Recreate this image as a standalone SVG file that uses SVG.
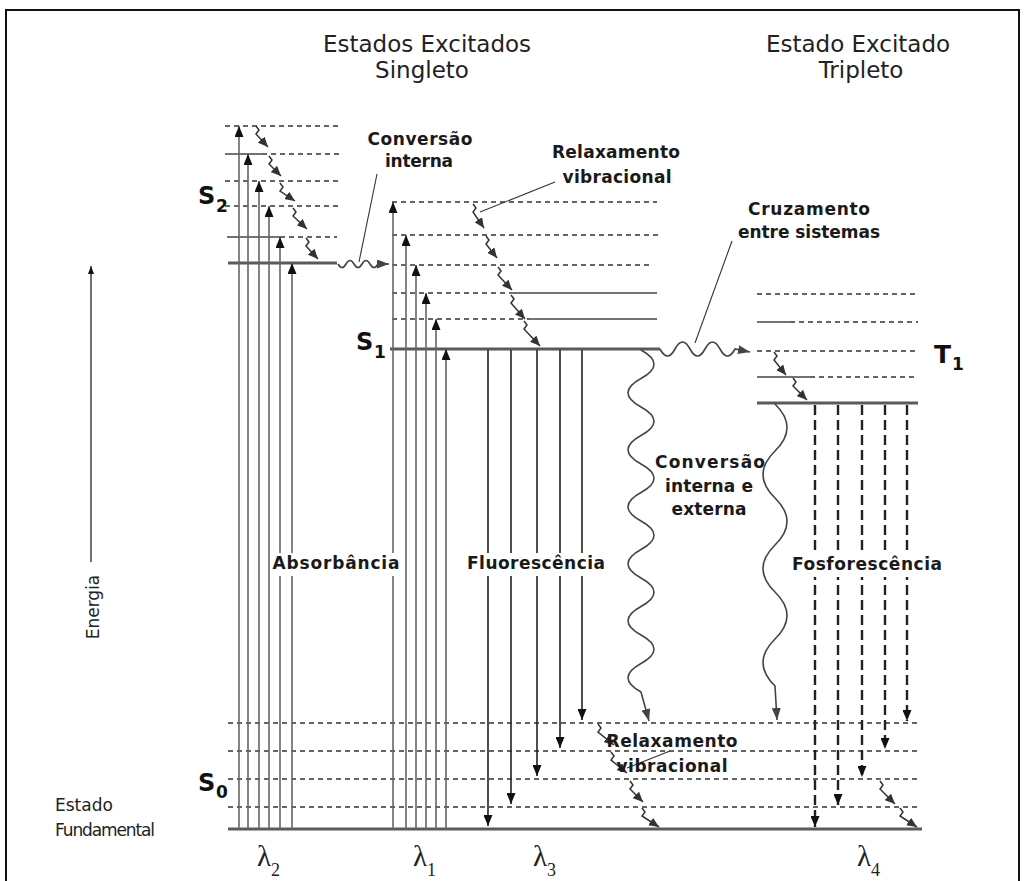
<svg xmlns="http://www.w3.org/2000/svg" width="1026" height="881" viewBox="0 0 1026 881">
  <style>
    .main { stroke: #5a5a5a; stroke-width: 3.2; fill: none; }
    .dash { stroke: #333; stroke-width: 1.6; stroke-dasharray: 5 4; fill: none; }
    .thin { stroke: #444; stroke-width: 1.3; fill: none; }
    .abs { stroke: #666; stroke-width: 1.6; fill: none; marker-end: url(#ah); }
    .flu { stroke: #222; stroke-width: 1.6; fill: none; marker-end: url(#ah); }
    .pho { stroke: #222; stroke-width: 2.4; stroke-dasharray: 10 5; fill: none; marker-end: url(#ah); }
    .rel { stroke: #333; stroke-width: 1.5; fill: none; marker-end: url(#ahs); }
    .wav { stroke: #444; stroke-width: 1.6; fill: none; marker-end: url(#ahw); }
    .lead { stroke: #333; stroke-width: 1.1; fill: none; }
    .tt { font-family: "DejaVu Sans", "Liberation Sans", sans-serif; font-size: 23px; fill: #222; text-anchor: middle; }
    .lb { font-family: "DejaVu Sans", "Liberation Sans", sans-serif; font-size: 17px; font-weight: bold; fill: #1a1a1a; text-anchor: middle; }
    .st { font-family: "DejaVu Sans", "Liberation Sans", sans-serif; font-weight: bold; fill: #111; }
    .rg { font-family: "DejaVu Sans", "Liberation Sans", sans-serif; font-size: 17px; fill: #222; }
    .lam { font-family: "Liberation Serif", "DejaVu Serif", serif; font-size: 29px; fill: #222; }
  </style>
  <defs>
    <marker id="ah" viewBox="0 0 11 9" refX="11" refY="4.5" markerWidth="11" markerHeight="9" markerUnits="userSpaceOnUse" orient="auto">
      <path d="M0,0 L11,4.5 L0,9 z" fill="#111"/>
    </marker>
    <marker id="ahs" viewBox="0 0 10 9" refX="10" refY="4.5" markerWidth="10" markerHeight="9" markerUnits="userSpaceOnUse" orient="auto">
      <path d="M0,0 L10,4.5 L0,9 z" fill="#333"/>
    </marker>
    <marker id="ahw" viewBox="0 0 12 9" refX="12" refY="4.5" markerWidth="12" markerHeight="9" markerUnits="userSpaceOnUse" orient="auto">
      <path d="M0,0 L12,4.5 L0,9 z" fill="#444"/>
    </marker>
    <marker id="ahe" viewBox="0 0 8 6" refX="8" refY="3" markerWidth="8" markerHeight="6" markerUnits="userSpaceOnUse" orient="auto">
      <path d="M0,0 L8,3 L0,6 z" fill="#111"/>
    </marker>
  </defs>

  <rect width="1026" height="881" fill="#fff"/>
  <rect x="6" y="10" width="1013" height="900" fill="none" stroke="#111" stroke-width="2"/>

  <!-- titles -->
  <g id="titles">
    <text class="tt" x="427" y="52">Estados Excitados</text>
    <text class="tt" x="422" y="78">Singleto</text>
    <text class="tt" x="858" y="52">Estado Excitado</text>
    <text class="tt" x="861" y="78">Tripleto</text>
  </g>

  <!-- energy axis -->
  <g id="energy-axis">
    <line x1="91" y1="562" x2="91" y2="266" stroke="#333" stroke-width="1.4" marker-end="url(#ahe)"/>
    <text class="rg" x="99" y="607" text-anchor="middle" transform="rotate(-90 99 607)">Energia</text>
  </g>

  <!-- singlet S2 -->
  <g id="S2">
    <line class="dash" x1="225" y1="126" x2="340" y2="126"/>
    <line class="thin" x1="225" y1="154" x2="262" y2="154"/>
    <line class="dash" x1="262" y1="154" x2="340" y2="154"/>
    <line class="dash" x1="225" y1="181" x2="340" y2="181"/>
    <line class="dash" x1="225" y1="206" x2="340" y2="206"/>
    <line class="thin" x1="227" y1="237" x2="280" y2="237"/>
    <line class="dash" x1="280" y1="237" x2="337" y2="237"/>
    <line class="main" x1="228" y1="263" x2="337" y2="263"/>
    <text class="st" x="198" y="204" font-size="24">S</text>
    <text class="st" x="216" y="212" font-size="17">2</text>
  </g>

  <!-- singlet S1 -->
  <g id="S1">
    <line class="dash" x1="392" y1="202" x2="657" y2="202"/>
    <line class="dash" x1="392" y1="235" x2="660" y2="235"/>
    <line class="dash" x1="392" y1="265" x2="652" y2="265"/>
    <line class="dash" x1="392" y1="293" x2="510" y2="293"/>
    <line class="thin" x1="510" y1="293" x2="657" y2="293"/>
    <line class="dash" x1="392" y1="319" x2="530" y2="319"/>
    <line class="thin" x1="530" y1="319" x2="657" y2="319"/>
    <line class="main" x1="390" y1="349" x2="660" y2="349"/>
    <text class="st" x="356" y="350" font-size="24">S</text>
    <text class="st" x="374" y="358" font-size="17">1</text>
  </g>

  <!-- triplet T1 -->
  <g id="T1">
    <line class="dash" x1="757" y1="294" x2="918" y2="294"/>
    <line class="thin" x1="757" y1="322" x2="790" y2="322"/>
    <line class="dash" x1="790" y1="322" x2="918" y2="322"/>
    <line class="dash" x1="757" y1="351" x2="915" y2="351"/>
    <line class="thin" x1="757" y1="377" x2="810" y2="377"/>
    <line class="dash" x1="810" y1="377" x2="918" y2="377"/>
    <line class="main" x1="757" y1="403" x2="918" y2="403"/>
    <text class="st" x="934" y="363" font-size="25">T</text>
    <text class="st" x="952" y="370" font-size="17">1</text>
  </g>

  <!-- ground state S0 -->
  <g id="S0">
    <line class="dash" x1="228" y1="723" x2="920" y2="723"/>
    <line class="dash" x1="228" y1="751" x2="920" y2="751"/>
    <line class="dash" x1="228" y1="779" x2="920" y2="779"/>
    <line class="dash" x1="228" y1="807" x2="920" y2="807"/>
    <line class="main" x1="228" y1="829" x2="922" y2="829"/>
    <text class="st" x="198" y="791" font-size="24">S</text>
    <text class="st" x="216" y="798" font-size="17">0</text>
    <text class="rg" x="55" y="811">Estado</text>
    <text class="rg" x="55" y="836" textLength="100">Fundamental</text>
  </g>

  <!-- transitions -->
  <g id="connectors">
    <!-- absorption, lambda 2 -->
    <path class="abs" d="M239 829 V126"/>
    <path class="abs" d="M248 829 V154"/>
    <path class="abs" d="M259 829 V181"/>
    <path class="abs" d="M269 829 V206"/>
    <path class="abs" d="M280 829 V237"/>
    <path class="abs" d="M292 829 V263"/>
    <!-- absorption, lambda 1 -->
    <path class="abs" d="M393 829 V202"/>
    <path class="abs" d="M406 829 V235"/>
    <path class="abs" d="M416 829 V265"/>
    <path class="abs" d="M426 829 V293"/>
    <path class="abs" d="M436 829 V319"/>
    <path class="abs" d="M446 829 V349"/>
    <!-- fluorescence -->
    <path class="flu" d="M488 350 V826"/>
    <path class="flu" d="M511 350 V804"/>
    <path class="flu" d="M537 350 V776"/>
    <path class="flu" d="M560 350 V748"/>
    <path class="flu" d="M582 350 V720"/>
    <!-- phosphorescence -->
    <path class="pho" d="M815 405 V827"/>
    <path class="pho" d="M838 405 V805"/>
    <path class="pho" d="M862 405 V777"/>
    <path class="pho" d="M885 405 V749"/>
    <path class="pho" d="M907 405 V721"/>
    <!-- vibrational relaxation S2 -->
    <path class="rel" d="M256 126 l3 4 l-3 4 L268 147"/>
    <path class="rel" d="M269 156 l3 4 l-3 4 L281 176"/>
    <path class="rel" d="M280 183 l3 4 l-3 4 L295 201"/>
    <path class="rel" d="M293 208 l3 4 l-3 4 L307 229"/>
    <path class="rel" d="M306 238 l3 4 l-3 4 L318 259"/>
    <!-- vibrational relaxation S1 -->
    <path class="rel" d="M473 204 l3 4 l-3 4 L484 228"/>
    <path class="rel" d="M486 236 l3 4 l-3 4 L497 258"/>
    <path class="rel" d="M498 267 l3 4 l-3 4 L512 290"/>
    <path class="rel" d="M511 295 l3 4 l-3 4 L525 319"/>
    <path class="rel" d="M524 321 l3 4 l-3 4 L540 346"/>
    <!-- vibrational relaxation T1 -->
    <path class="rel" d="M774 352 l3 4 l-3 4 L786 375"/>
    <path class="rel" d="M793 378 l3 4 l-3 4 L807 400"/>
    <!-- vibrational relaxation S0 -->
    <path class="rel" d="M598 724 l3 4 l-3 4 L614 745"/>
    <path class="rel" d="M611 752 l3 4 l-3 4 L627 773"/>
    <path class="rel" d="M630 781 l3 4 l-3 4 L643 802"/>
    <path class="rel" d="M642 808 l3 4 l-3 4 L659 827"/>
    <path class="rel" d="M880 781 l3 4 l-3 4 L895 804"/>
    <path class="rel" d="M900 808 l3 4 l-3 4 L917 827"/>
    <!-- internal conversion S2 -> S1 -->
    <path class="wav" d="M338 264 Q342 271 346 264 T354 264 T362 264 T370 264 T378 264 L389 264"/>
    <!-- intersystem crossing S1 -> T1 -->
    <path class="wav" d="M660 349 Q667.5 363 675 349 T690 349 T705 349 T720 349 T735 349 L750 352"/>
    <!-- internal/external conversion S1 -> S0 -->
    <path class="wav" d="M641 350 Q667 364.25 641 378.5 T641 407 T641 435.5 T641 464 T641 492.5 T641 521 T641 549.5 T641 578 T641 606.5 T641 635 T641 663.5 T641 692 L649 721"/>
    <!-- internal/external conversion T1 -> S0 -->
    <path class="wav" d="M775 404 Q799 427.5 775 451 T775 498 T775 545 T775 592 T775 639 T775 686 L777 720"/>
    <!-- label leaders -->
    <line class="lead" x1="377" y1="174" x2="359" y2="262"/>
    <line class="lead" x1="555" y1="182" x2="480" y2="212"/>
    <line class="lead" x1="732" y1="241" x2="695" y2="343"/>
    <line class="lead" x1="670" y1="751" x2="627" y2="768"/>
  </g>

  <!-- process labels -->
  <g id="labels">
    <text class="lb" x="420" y="145" textLength="105">Conversão</text>
    <text class="lb" x="419" y="167" textLength="68">interna</text>
    <text class="lb" x="616" y="158" textLength="128">Relaxamento</text>
    <text class="lb" x="617" y="183" textLength="109">vibracional</text>
    <text class="lb" x="809" y="215" textLength="122">Cruzamento</text>
    <text class="lb" x="809" y="238" textLength="142">entre sistemas</text>
    <text class="lb" x="710" y="468" textLength="110">Conversão</text>
    <text class="lb" x="709" y="492" textLength="88">interna e</text>
    <text class="lb" x="709" y="515" textLength="75">externa</text>
    <rect x="271" y="553" width="129" height="23" fill="#fff"/>
    <text class="lb" x="336" y="569" textLength="127">Absorbância</text>
    <rect x="465" y="553" width="142" height="23" fill="#fff"/>
    <text class="lb" x="536" y="569" textLength="138">Fluorescência</text>
    <rect x="790" y="554" width="154" height="23" fill="#fff"/>
    <text class="lb" x="867" y="570" textLength="150">Fosforescência</text>
    <text class="lb" x="672" y="747" text-anchor="start" textLength="131">Relaxamento</text>
    <text class="lb" x="672" y="772" text-anchor="start" textLength="111">vibracional</text>
  </g>

  <!-- wavelengths -->
  <g id="wavelengths">
    <text class="lam" x="257" y="866">λ<tspan font-size="18" dy="10">2</tspan></text>
    <text class="lam" x="413" y="866">λ<tspan font-size="18" dy="10">1</tspan></text>
    <text class="lam" x="533" y="866">λ<tspan font-size="18" dy="10">3</tspan></text>
    <text class="lam" x="857" y="866">λ<tspan font-size="18" dy="10">4</tspan></text>
  </g>
</svg>
